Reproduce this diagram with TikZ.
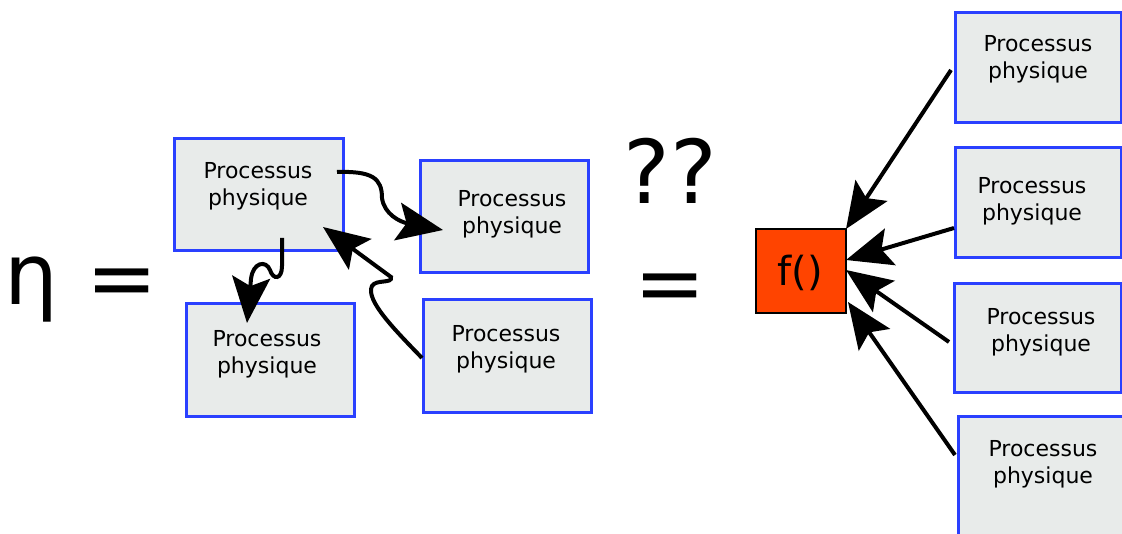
\documentclass[tikz,border=0pt]{standalone}
\usepackage{fontspec}
\setmainfont{DejaVu Sans}
\usetikzlibrary{arrows.meta,calc}
\definecolor{boxblue}{RGB}{42,64,255}
\definecolor{boxfill}{RGB}{232,235,234}
\definecolor{forange}{RGB}{255,68,0}
\begin{document}
\begin{tikzpicture}[x=1pt,y=-1pt,
  pbox/.style={draw=boxblue,fill=boxfill,line width=3pt,minimum width=168pt,minimum height=112pt,inner sep=0pt,outer sep=0pt},
  ptext/.style={align=center,inner sep=0pt,font=\fontsize{22}{27}\selectfont},
  big/.style={inner sep=0pt,anchor=base,font=\fontsize{85}{90}\selectfont},
  conn/.style={line width=4pt,-{Stealth[length=46pt,width=38pt,inset=9pt]}},
  fbox/.style={draw=black,fill=forange,line width=2.5pt,minimum width=90pt,minimum height=84pt,inner sep=0pt,outer sep=0pt}]
\useasboundingbox (0,0) rectangle (1122,534);
% left side
\node[big] (eta) at (31,305) {η};
\node[big] (eq1) at (122.5,308) {=};
\node[pbox,minimum width=169pt] (A) at (258.5,195) {};
\node[ptext] (tA) at (258,186) {Processus\\physique};
\node[pbox] (B) at (504,217) {};
\node[ptext] (tB) at (512,214.5) {Processus\\physique};
\node[pbox,minimum height=113pt] (C) at (270,360.5) {};
\node[ptext] (tC) at (267,354.5) {Processus\\physique};
\node[pbox,minimum height=113pt] (D) at (507,356.5) {};
\node[ptext] (tD) at (506,349) {Processus\\physique};
% middle
\node[big,font=\fontsize{88}{92}\selectfont] (qq) at (670,204) {??};
\node[big] (eq2) at (670,313) {=};
% f box
\node[fbox] (F) at (801,271) {};
\node[inner sep=0pt,anchor=base,font=\fontsize{40}{42}\selectfont] (tF) at (800,286) {f()};
% right boxes
\node[pbox,minimum width=166pt,minimum height=110pt] (R1) at (1038,68) {};
\node[ptext] (tR1) at (1038,59) {Processus\\physique};
\node[pbox,minimum width=166pt,minimum height=110pt] (R2) at (1038,203) {};
\node[ptext] (tR2) at (1032,201) {Processus\\physique};
\node[pbox,minimum width=167pt,minimum height=109pt] (R3) at (1037.5,338.5) {};
\node[ptext] (tR3) at (1041,332.5) {Processus\\physique};
\node[pbox,minimum width=166pt,minimum height=122pt] (R4) at (1041,478) {};
\node[ptext] (tR4) at (1043,464.5) {Processus\\physique};
% wavy arrows
\coordinate (s1) at ($(A)+(78.5,-23)$);
\coordinate (e1) at ($(B)+(-61,13)$);
\draw[conn] (s1) .. controls (372,171) and (382,178) .. (382,198)
  .. controls (384,214) and (400,222) .. (e1);
\coordinate (s2) at ($(A)+(23.5,43)$);
\coordinate (e2) at ($(C)+(-23,-37.5)$);
\draw[conn] (s2) -- (282,266) .. controls (282,280) and (273,280) .. (270,270)
  .. controls (266,260) and (253,262) .. (251,279) -- (e2);
\coordinate (s3) at ($(D)+(-85,1.5)$);
\coordinate (e3) at ($(A)+(64.5,32)$);
\draw[conn] (s3) .. controls (395,330) and (365,300) .. (372,286)
  .. controls (376,279) and (393,284) .. (391,277) -- (e3);
% right arrows
\draw[conn] ($(R1)+(-87,2)$) -- (F.north east);
\draw[conn] ($(R2)+(-84,25)$) -- ($(F)+(45,-11)$);
\draw[conn] ($(R3)+(-88.5,3.5)$) -- ($(F)+(45,-1)$);
\draw[conn] ($(R4)+(-86,-23)$) -- ($(F)+(47,31)$);
\end{tikzpicture}
\end{document}
